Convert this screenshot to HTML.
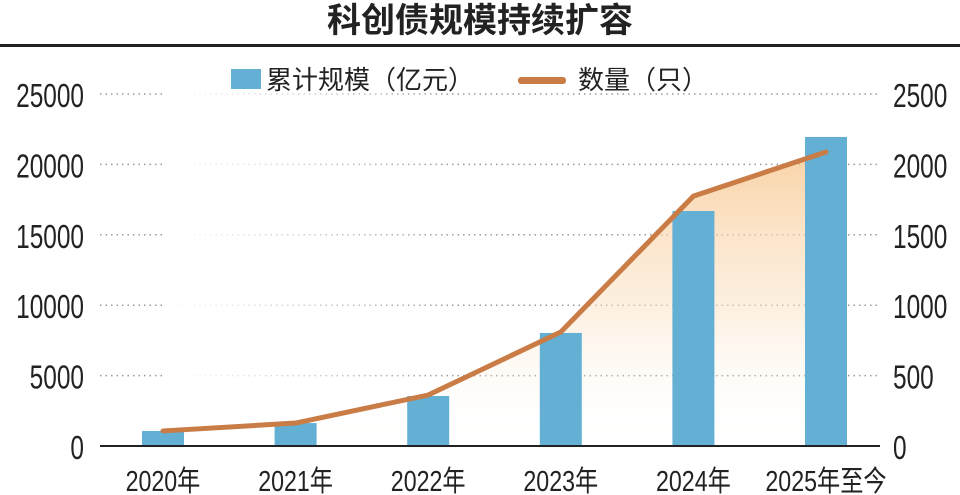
<!DOCTYPE html>
<html><head><meta charset="utf-8"><style>
body{margin:0;background:#fff;}
svg{display:block;font-family:"Liberation Sans","Noto Sans CJK SC",sans-serif;}
</style></head><body>
<svg id="chart" width="960" height="495" viewBox="0 0 960 495">
<defs>
<linearGradient id="fillg" x1="0" y1="0" x2="0" y2="1">
<stop offset="0" stop-color="#f7c48a" stop-opacity="0.75"/>
<stop offset="0.55" stop-color="#fbe3c6" stop-opacity="0.5"/>
<stop offset="1" stop-color="#ffffff" stop-opacity="0"/>
</linearGradient>
<linearGradient id="fadeh" x1="0" y1="0" x2="1" y2="0">
<stop offset="0" stop-color="#fff" stop-opacity="1"/>
<stop offset="0.45" stop-color="#fff" stop-opacity="0"/>
</linearGradient>
</defs>
<text x="480" y="32" text-anchor="middle" font-size="34" font-weight="bold" fill="#222">科创债规模持续扩容</text>
<rect x="0" y="44" width="960" height="3" fill="#222"/>
<g id="grid"></g>
<g id="area"></g>
<g id="bars"></g>
<g id="line"></g>
<g id="axes"></g>
<g>
<rect x="231" y="69" width="30" height="20" fill="#63b0d4"/>
<text x="266" y="89" font-size="26" fill="#222">累计规模（亿元）</text>
<rect x="518" y="77" width="48" height="7" rx="3" fill="#c97c46"/>
<text x="578" y="89" font-size="26" fill="#222">数量（只）</text>
</g>
</svg>
<script>
const categories=["2020年","2021年","2022年","2023年","2024年","2025年至今"];
const scaleValues=[1065,1630,3550,8030,16690,21950];
const countValues=[107,163,362,810,1775,2088];
const leftTicks=[0,5000,10000,15000,20000,25000];
const rightTicks=[0,500,1000,1500,2000,2500];
const NS="http://www.w3.org/2000/svg";
const y0=446,pxPer=352/25000;
const yL=v=>y0-v*pxPer;
const yR=v=>y0-v*(352/2500);
const xC=i=>163+132.6*i;
function mk(tag,attrs,parent){const e=document.createElementNS(NS,tag);for(const k in attrs)e.setAttribute(k,attrs[k]);parent.appendChild(e);return e;}
const grid=document.getElementById('grid'),axes=document.getElementById('axes');
leftTicks.forEach((t,i)=>{
 if(t>0){const l=mk('line',{x1:100,x2:880,y1:yL(t),y2:yL(t),stroke:'#999','stroke-width':1.5,'stroke-dasharray':'1.5 4'},grid);
 
 }
 const tx=mk('text',{x:84,y:yL(t)+13,'text-anchor':'end','font-size':33,fill:'#222',transform:`translate(84 0) scale(0.74 1) translate(-84 0)`},axes);
 tx.textContent=t;
 
 
 const rt=mk('text',{x:893,y:yR(rightTicks[i])+13,'font-size':33,fill:'#222',transform:`translate(893 0) scale(0.74 1) translate(-893 0)`},axes);
 rt.textContent=rightTicks[i];
 
 
});
const ax=mk('line',{x1:100,x2:880,y1:y0,y2:y0,stroke:'#222','stroke-width':2},axes);


categories.forEach((c,i)=>{
 const t=mk('text',{x:xC(i),y:491,'text-anchor':'middle','font-size':29,fill:'#222',transform:`translate(${xC(i)} 0) scale(0.8 1) translate(${-xC(i)} 0)`},axes);
 t.textContent=c;
 
 
});
const area=document.getElementById('area');
let d=`M${xC(0)},${y0}`;countValues.forEach((v,i)=>d+=` L${xC(i)},${yR(v)}`);d+=` L${xC(5)},${y0} Z`;
const a=mk('path',{d:d,fill:'url(#fillg)'},area);


const f=mk('rect',{x:xC(0),y:90,width:xC(5)-xC(0),height:356,fill:'url(#fadeh)'},area);


const bars=document.getElementById('bars');
scaleValues.forEach((v,i)=>{
 const b=mk('rect',{x:xC(i)-21,y:yL(v),width:42,height:y0-yL(v),fill:'#63b0d4'},bars);
 
 
});
const ln=document.getElementById('line');
const pts=countValues.map((v,i)=>xC(i)+','+yR(v)).join(' ');
const pl=mk('polyline',{points:pts,fill:'none',stroke:'#c97c46','stroke-width':5,'stroke-linecap':'round','stroke-linejoin':'round'},ln);


</script>
</body></html>
